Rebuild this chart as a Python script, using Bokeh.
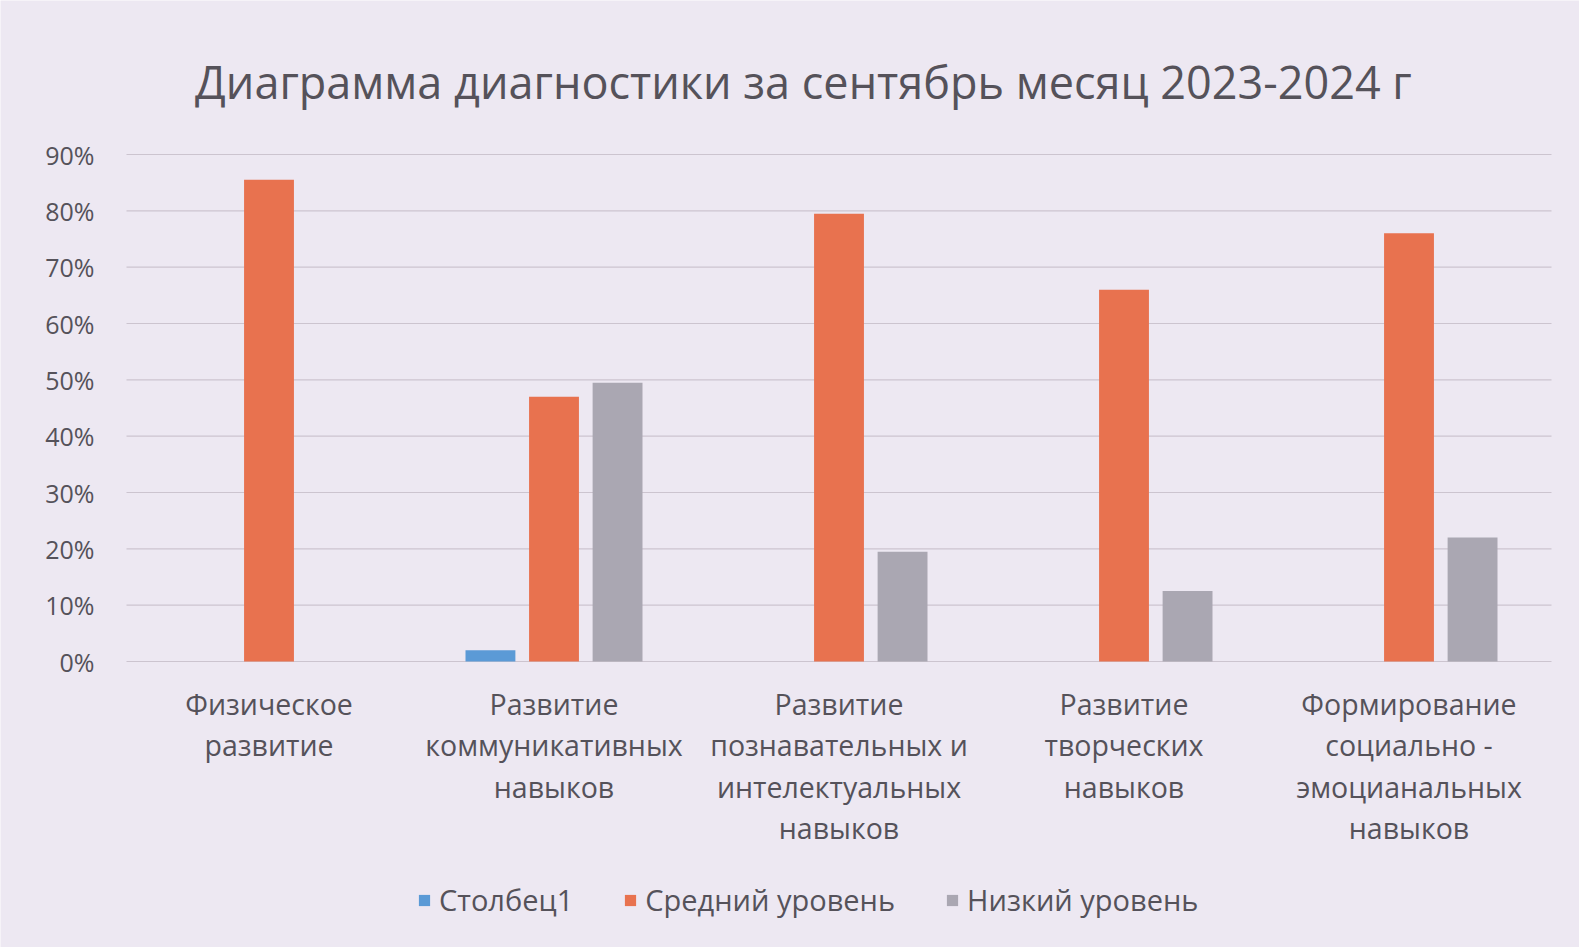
from bokeh.plotting import figure
from bokeh.models import Label, Legend, LegendItem, Range1d
from bokeh.core.properties import value
from bokeh.embed import file_html
from bokeh.resources import INLINE

# ---- data ----
categories = [
    ["Физическое", "развитие"],
    ["Развитие", "коммуникативных", "навыков"],
    ["Развитие", "познавательных и", "интелектуальных", "навыков"],
    ["Развитие", "творческих", "навыков"],
    ["Формирование", "социально -", "эмоцианальных", "навыков"],
]
series_names = ["Столбец1", "Средний уровень", "Низкий уровень"]
stolbec1 = [0.0, 0.02, 0.0, 0.0, 0.0]
sredniy = [0.855, 0.47, 0.795, 0.66, 0.76]
nizkiy = [0.0, 0.495, 0.195, 0.125, 0.22]
y_ticks = [0.0, 0.1, 0.2, 0.3, 0.4, 0.5, 0.6, 0.7, 0.8, 0.9]
y_tick_labels = ["0%", "10%", "20%", "30%", "40%", "50%", "60%", "70%", "80%", "90%"]
title_text = "Диаграмма диагностики за сентябрь месяц 2023-2024 г"

# ---- style ----
BG = "#EDE8F2"
TXT = "#55525A"
COLORS = ["#5B9AD6", "#E8724F", "#AAA7B2"]
FONT = "Open Sans"

W, H = 1579, 947
LEFT, RIGHT, TOP, BOTTOM = 126, 28, 154, 286   # plot-area margins in px
n = len(categories)
px_x = (W - LEFT - RIGHT) / n          # px per category
px_y = (H - TOP - BOTTOM) / 0.9        # px per unit value

x0 = -0.5 - LEFT / px_x
x1 = n - 0.5 + RIGHT / px_x
y0 = -BOTTOM / px_y
y1 = 0.9 + TOP / px_y

p = figure(width=W, height=H, output_backend="svg", toolbar_location=None,
           x_range=Range1d(x0, x1), y_range=Range1d(y0, y1),
           min_border=0)
p.background_fill_color = BG
p.border_fill_color = BG
p.outline_line_color = None
p.axis.visible = False
p.grid.visible = False

# gridlines
p.segment(x0=[-0.5] * len(y_ticks), x1=[n - 0.5] * len(y_ticks), y0=y_ticks, y1=y_ticks,
          line_color="#CCC4CF", line_width=1.2)
# y tick labels
p.text(x=[-0.5] * len(y_ticks), y=y_ticks, text=y_tick_labels, x_offset=-32,
       text_align="right", text_baseline="middle", text_font=value(FONT),
       text_font_size="25px", text_color=TXT)

offsets = [-0.223, 0.0, 0.223]
bar_w = 0.175
xs = list(range(n))
renderers = []
for vals, off, col in zip([stolbec1, sredniy, nizkiy], offsets, COLORS):
    r = p.vbar(x=[x + off for x in xs], top=vals, bottom=0, width=bar_w,
               fill_color=col, line_color=None)
    renderers.append(r)

# category labels
line_gap = 41.6
first = 42
cx, cy, ct = [], [], []
for i, lines in enumerate(categories):
    for k, t in enumerate(lines):
        cx.append(i)
        cy.append(-(first + k * line_gap) / px_y)
        ct.append(t)
p.text(x=cx, y=cy, text=ct, text_align="center", text_baseline="middle",
       text_font=value(FONT), text_font_size="28.5px", text_color=TXT)

# title
p.add_layout(Label(x=1.875, y=0.9 + 73 / px_y, text=title_text, text_align="center",
                   text_baseline="middle", text_font=FONT, text_font_size="45px",
                   text_color=TXT))

# legend
items = [LegendItem(label=nm, renderers=[r]) for nm, r in zip(series_names, renderers)]
legend = Legend(items=items, orientation="horizontal", location=(417, 28),
                background_fill_alpha=0, border_line_color=None,
                label_text_font=FONT, label_text_font_size="29px", label_text_color=TXT,
                glyph_width=14, glyph_height=14, label_standoff=8, spacing=50, padding=4, margin=0)
p.add_layout(legend, "center")

open("out.html", "w").write(file_html(p, INLINE))
